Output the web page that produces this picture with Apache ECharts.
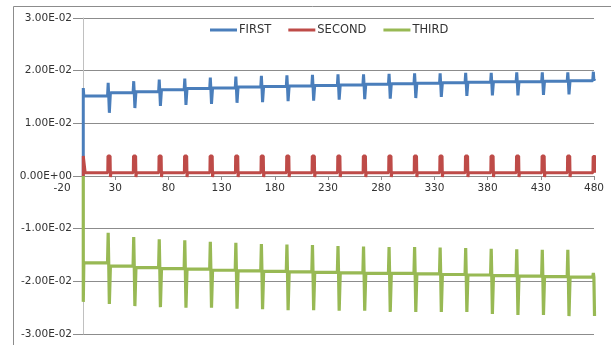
<!DOCTYPE html>
<html>
<head>
<meta charset="utf-8">
<script src="https://cdn.jsdelivr.net/npm/echarts@6/dist/echarts.min.js"></script>
<style>
  html, body { margin: 0; padding: 0; background: #fff; }
  #chart { width: 611px; height: 345px; }
</style>
</head>
<body>
<div id="chart"></div>
<script>
// spike positions along the x axis
const spikeX = [24, 48, 72, 96, 120, 144, 168, 192, 216, 240, 264, 288, 312, 336, 360, 384, 408, 432, 456, 480];

// FIRST: level of each segment before the spike, spike top, spike bottom
const firstStart = [0, 0.0167];
const firstBase = [0.0152, 0.0158, 0.0160, 0.0164, 0.0166, 0.0167, 0.0169, 0.0170, 0.0171, 0.0172, 0.0173, 0.0174, 0.0175, 0.0176, 0.0177, 0.0178, 0.0179, 0.0179, 0.0180, 0.0181];
const firstPeak = [0.0177, 0.0180, 0.0183, 0.0185, 0.0187, 0.0189, 0.0190, 0.0191, 0.0192, 0.0193, 0.0193, 0.0194, 0.0195, 0.0195, 0.0196, 0.0196, 0.0197, 0.0197, 0.0197, 0.0198];
const firstDip = [0.0120, 0.0129, 0.0133, 0.0135, 0.0137, 0.0139, 0.0140, 0.0142, 0.0143, 0.0145, 0.0146, 0.0147, 0.0148, 0.0150, 0.0152, 0.0153, 0.0153, 0.0154, 0.0155, 0.0185];

// SECOND
const secondStart = [0, 0.0038];
const secondBase = [0.0006, 0.0006, 0.0006, 0.0006, 0.0006, 0.0006, 0.0006, 0.0006, 0.0006, 0.0006, 0.0006, 0.0006, 0.0006, 0.0006, 0.0006, 0.0006, 0.0006, 0.0006, 0.0006, 0.0006];
const secondPeak = [0.0038, 0.0038, 0.0038, 0.0038, 0.0038, 0.0038, 0.0038, 0.0038, 0.0038, 0.0038, 0.0038, 0.0038, 0.0038, 0.0038, 0.0038, 0.0038, 0.0038, 0.0038, 0.0038, 0.0037];
const secondDip = [-0.0002, -0.0002, -0.0002, -0.0002, -0.0002, -0.0002, -0.0002, -0.0002, -0.0002, -0.0002, -0.0002, -0.0002, -0.0002, -0.0002, -0.0002, -0.0002, -0.0002, -0.0002, -0.0002, 0.0006];

// THIRD
const thirdStart = [0, -0.0239];
const thirdBase = [-0.0165, -0.0171, -0.0174, -0.0176, -0.0177, -0.0179, -0.0180, -0.0181, -0.0182, -0.0183, -0.0184, -0.0185, -0.0185, -0.0186, -0.0187, -0.0188, -0.0189, -0.0190, -0.0191, -0.0192];
const thirdPeak = [-0.0108, -0.0116, -0.0120, -0.0122, -0.0125, -0.0127, -0.0129, -0.0130, -0.0131, -0.0133, -0.0134, -0.0135, -0.0135, -0.0136, -0.0137, -0.0138, -0.0139, -0.0140, -0.0140, -0.0184];
const thirdDip = [-0.0243, -0.0247, -0.0249, -0.0250, -0.0250, -0.0252, -0.0253, -0.0255, -0.0255, -0.0256, -0.0256, -0.0258, -0.0258, -0.0258, -0.0258, -0.0262, -0.0264, -0.0264, -0.0266, -0.0266];

const names = ["FIRST", "SECOND", "THIRD"];
const colors = ["#4a7ebb", "#be4b48", "#98b954"];
const xTicks = [-20, 30, 80, 130, 180, 230, 280, 330, 380, 430, 480];
const yTicks = ["-3.00E-02", "-2.00E-02", "-1.00E-02", "0.00E+00", "1.00E-02", "2.00E-02", "3.00E-02"];

// sharp spike: base -> peak -> dip at the spike position, then next level
function spikes(start, base, peak, dip) {
  const pts = [[0, start[0]], [0, start[1]], [0.5, base[0]]];
  spikeX.forEach((x, i) => {
    pts.push([x - 1.2, base[i]]);
    pts.push([x - 0.6, peak[i]]);
    pts.push([x - 0.1, base[i]]);
    pts.push([x + 0.5, dip[i]]);
    pts.push([x + 0.9, dip[i]]);
    if (i + 1 < base.length) pts.push([x + 1.5, base[i + 1]]);
  });
  return pts;
}

// block spike: the top is held for about a unit before falling back
function blocks(start, base, peak, dip) {
  const pts = [[0, start[0]], [0, start[1]], [1.5, start[1]], [1.8, base[0]]];
  spikeX.forEach((x, i) => {
    pts.push([x - 1, base[i]]);
    pts.push([x - 0.8, peak[i]]);
    pts.push([x + 1.2, peak[i]]);
    pts.push([x + 1.5, dip[i]]);
    if (i + 1 < base.length) pts.push([x + 2, base[i + 1]]);
  });
  return pts;
}

const chart = echarts.init(document.getElementById("chart"));
const font = "DejaVu Sans";

chart.setOption({
  animation: false,
  textStyle: { fontFamily: font },
  graphic: [
    { type: "line", shape: { x1: 13.5, y1: 6.5, x2: 611, y2: 6.5 }, style: { stroke: "#8c8c8c", lineWidth: 1 } },
    { type: "line", shape: { x1: 13.5, y1: 6.5, x2: 13.5, y2: 345 }, style: { stroke: "#8c8c8c", lineWidth: 1 } }
  ],
  grid: { left: 62, right: 17, top: 18, bottom: 11, containLabel: false },
  legend: {
    top: 19,
    left: 205,
    itemWidth: 27,
    itemHeight: 3,
    itemGap: 17,
    icon: "rect",
    textStyle: { fontFamily: font, fontSize: 11.5, color: "#333", padding: [0, 0, 0, -3] },
    data: names
  },
  xAxis: {
    type: "value",
    min: -20,
    max: 480,
    interval: 50,
    position: "bottom",
    offset: -158,
    axisLine: { onZero: false, lineStyle: { color: "#8c8c8c", width: 1 } },
    axisTick: { show: true, length: 4, lineStyle: { color: "#8c8c8c" } },
    axisLabel: {
      fontFamily: font, fontSize: 10.5, color: "#333", margin: 7,
      formatter: (v) => (xTicks.indexOf(v) >= 0 ? String(v) : "")
    },
    splitLine: { show: false }
  },
  yAxis: {
    type: "value",
    min: -0.03,
    max: 0.03,
    interval: 0.01,
    position: "left",
    offset: -21,
    axisLine: { onZero: false, lineStyle: { color: "#c0c0c0", width: 1 } },
    axisTick: { show: false },
    axisLabel: {
      fontFamily: font, fontSize: 10.5, color: "#333", margin: 10,
      backgroundColor: "#fff", padding: [1, 1, 1, 1],
      formatter: (v) => yTicks[Math.round(v * 100) + 3]
    },
    splitLine: { show: true, lineStyle: { color: "#8c8c8c", width: 1 } }
  },
  series: [
    { name: names[0], type: "line", data: spikes(firstStart, firstBase, firstPeak, firstDip),
      showSymbol: false, lineStyle: { color: colors[0], width: 3 }, itemStyle: { color: colors[0] } },
    { name: names[1], type: "line", data: blocks(secondStart, secondBase, secondPeak, secondDip),
      showSymbol: false, lineStyle: { color: colors[1], width: 3 }, itemStyle: { color: colors[1] } },
    { name: names[2], type: "line", data: spikes(thirdStart, thirdBase, thirdPeak, thirdDip),
      showSymbol: false, lineStyle: { color: colors[2], width: 3.2 }, itemStyle: { color: colors[2] } }
  ]
});
</script>
</body>
</html>
